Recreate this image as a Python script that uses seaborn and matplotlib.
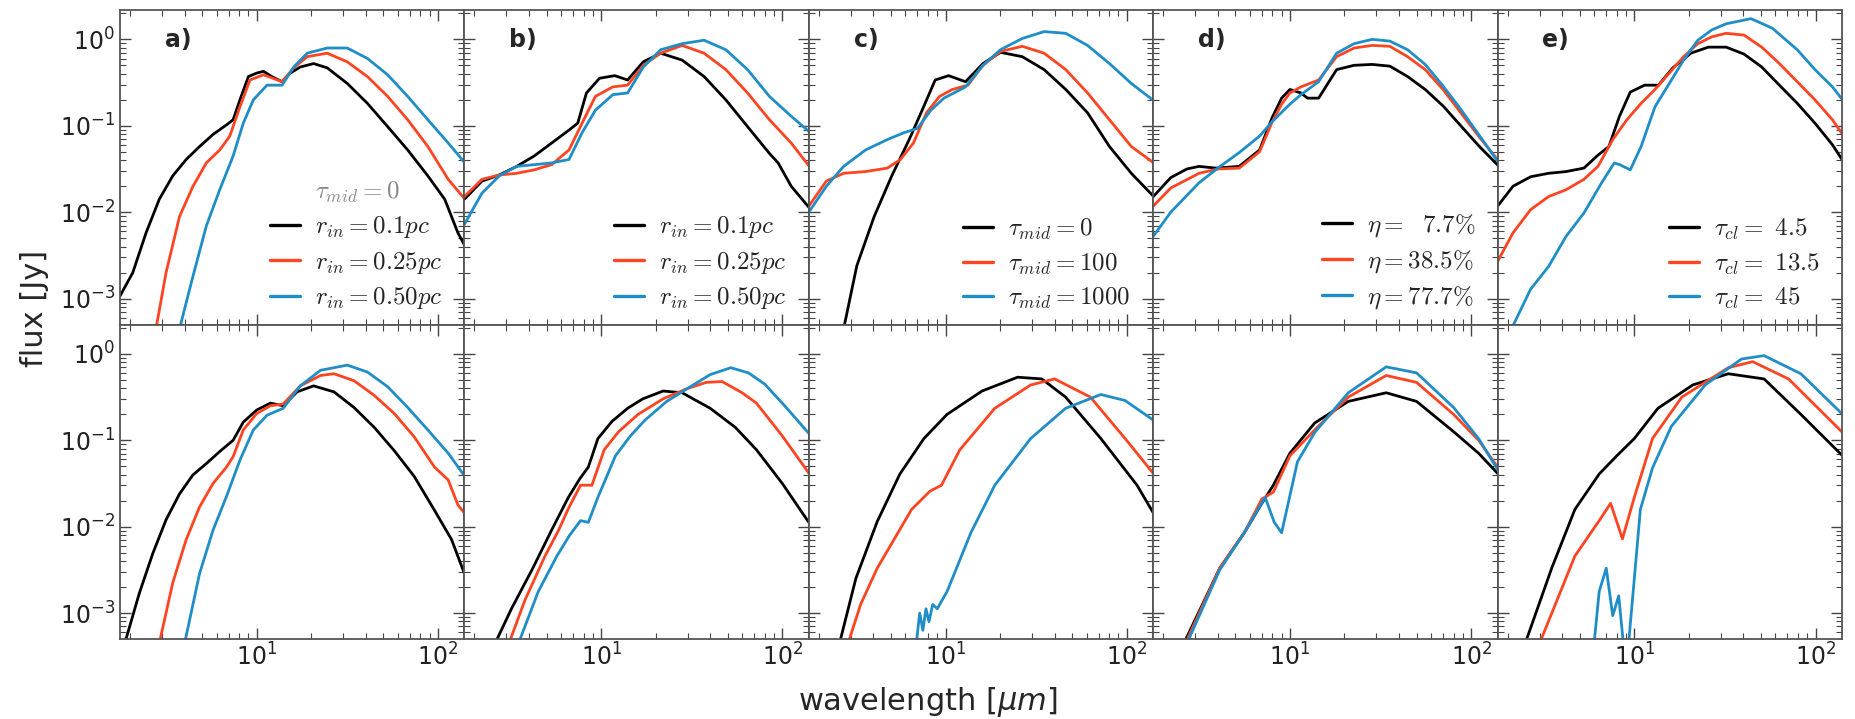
import matplotlib
matplotlib.use("Agg")
import matplotlib.pyplot as plt
import numpy as np
import pandas as pd
import seaborn as sns
from matplotlib.lines import Line2D
from matplotlib.ticker import LogLocator, NullFormatter

# ---------------- data: (wavelength [um], log10 flux [Jy]) ----------------
a_top_k = [(1.76,-2.97),(2.07,-2.70),(2.45,-2.24),(2.9,-1.85),(3.44,-1.58),(4.08,-1.39),(4.84,-1.24),(5.74,-1.10),(6.81,-0.99),(7.41,-0.93),(8.08,-0.70),(9.0,-0.43),(10,-0.39),(10.9,-0.37),(12.1,-0.43),(13.8,-0.49),(15.3,-0.39),(17.4,-0.32),(20.6,-0.28),(24.5,-0.33),(31.6,-0.51),(40.8,-0.74),(52.8,-1.01),(68.1,-1.28),(88,-1.58),(109,-1.85),(129,-2.24),(141,-2.39)]
a_top_r = [(2.78,-3.35),(3.16,-2.70),(3.75,-2.05),(4.45,-1.70),(5.27,-1.43),(6.25,-1.28),(7.1,-1.12),(8.08,-0.78),(9.18,-0.47),(10.9,-0.41),(13.8,-0.49),(16,-0.33),(19,-0.20),(24.5,-0.16),(31.6,-0.26),(40.8,-0.43),(52.8,-0.66),(68.1,-0.93),(88,-1.24),(114,-1.62),(141,-1.85)]
a_top_b = [(3.75,-3.35),(4.45,-2.74),(5.27,-2.16),(6.25,-1.74),(7.41,-1.35),(8.43,-0.97),(9.58,-0.70),(11.4,-0.53),(13.8,-0.53),(16,-0.32),(19,-0.16),(24.5,-0.10),(31.6,-0.10),(40.8,-0.22),(52.8,-0.41),(68.1,-0.66),(88,-0.93),(114,-1.20),(141,-1.43)]
a_bot_k = [(1.87,-3.35),(2.25,-2.77),(2.67,-2.31),(3.16,-1.92),(3.75,-1.62),(4.45,-1.40),(5.27,-1.27),(6.25,-1.13),(7.41,-1.0),(8.43,-0.79),(10,-0.65),(11.9,-0.57),(14,-0.60),(16.7,-0.44),(20.6,-0.37),(26.7,-0.44),(34.4,-0.62),(44.5,-0.85),(57.4,-1.12),(74.1,-1.42),(95.7,-1.81),(119,-2.15),(141,-2.56)]
a_bot_r = [(2.9,-3.35),(3.44,-2.65),(4.08,-2.15),(4.84,-1.77),(5.74,-1.5),(6.81,-1.31),(7.41,-1.19),(8.43,-0.88),(10,-0.69),(11.9,-0.60),(14,-0.58),(17.4,-0.37),(22.5,-0.25),(26.7,-0.23),(34.4,-0.31),(44.5,-0.48),(57.4,-0.69),(74,-0.96),(95.7,-1.31),(114,-1.46),(129,-1.75),(141,-1.85)]
a_bot_b = [(4.0,-3.35),(4.84,-2.54),(5.74,-2.04),(6.81,-1.65),(8.08,-1.23),(9.58,-0.88),(11.4,-0.71),(14,-0.63),(17.4,-0.37),(22.5,-0.19),(31.6,-0.13),(40.8,-0.21),(52.8,-0.38),(68.1,-0.62),(88,-0.88),(114,-1.15),(141,-1.42)]

b_top_k = [(1.76,-1.85),(2.2,-1.64),(2.74,-1.57),(3.42,-1.47),(4.27,-1.35),(5.33,-1.2),(6.65,-1.05),(7.43,-0.97),(8.3,-0.62),(9.8,-0.45),(11.9,-0.42),(14,-0.47),(17.1,-0.26),(21.3,-0.16),(28,-0.24),(37,-0.43),(48.8,-0.70),(64.3,-1.01),(84.9,-1.32),(94.8,-1.43),(112,-1.70),(141,-1.95)]
b_top_r = [(1.76,-1.82),(2.2,-1.62),(2.74,-1.57),(3.42,-1.55),(4.27,-1.51),(5.33,-1.45),(6.65,-1.28),(7.85,-0.97),(9.3,-0.66),(11.6,-0.55),(14,-0.53),(17.1,-0.30),(21.3,-0.16),(28,-0.07),(37,-0.16),(48.8,-0.35),(64.3,-0.62),(84.9,-0.93),(112,-1.20),(141,-1.47)]
b_top_b = [(1.76,-2.14),(2.2,-1.78),(2.74,-1.58),(3.42,-1.47),(4.27,-1.45),(5.33,-1.43),(6.65,-1.39),(7.85,-1.08),(9.3,-0.82),(11.6,-0.64),(14,-0.62),(17.1,-0.32),(21.3,-0.12),(28,-0.05),(37,-0.01),(48.8,-0.12),(64.3,-0.35),(84.9,-0.66),(112,-0.89),(141,-1.07)]
b_bot_k = [(2.6,-3.35),(3.2,-2.95),(4.2,-2.48),(5.3,-2.05),(6.6,-1.66),(7.6,-1.45),(8.5,-1.31),(9.6,-0.98),(11.5,-0.78),(14,-0.63),(17,-0.52),(22,-0.43),(28,-0.45),(40,-0.63),(55,-0.85),(72,-1.11),(100,-1.50),(140,-1.95)]
b_bot_r = [(3.1,-3.35),(3.8,-2.85),(4.9,-2.34),(5.8,-2.05),(6.6,-1.79),(7.7,-1.52),(8.9,-1.52),(10.4,-1.11),(12.5,-0.90),(16,-0.70),(22,-0.52),(30,-0.40),(38,-0.33),(46.5,-0.32),(60,-0.45),(72,-0.57),(100,-0.95),(140,-1.38)]
b_bot_b = [(3.5,-3.35),(4.5,-2.75),(5.7,-2.34),(6.7,-2.1),(7.7,-1.93),(8.5,-1.95),(9.6,-1.66),(12,-1.18),(14.5,-0.95),(17.4,-0.77),(23,-0.55),(30,-0.40),(40,-0.24),(52,-0.16),(65,-0.22),(80,-0.35),(105,-0.62),(140,-0.92)]

c_top_k = [(2.74,-3.35),(3.24,-2.62),(4.04,-2.05),(5.05,-1.58),(6.3,-1.16),(7.43,-0.82),(8.77,-0.47),(10.4,-0.42),(12.9,-0.49),(16.1,-0.28),(20.1,-0.15),(26.5,-0.20),(35,-0.35),(46.1,-0.58),(60.8,-0.85),(80.3,-1.24),(106,-1.55),(141,-1.82)]
c_top_r = [(1.76,-1.93),(2.2,-1.64),(2.74,-1.55),(3.62,-1.53),(4.77,-1.49),(5.64,-1.39),(6.65,-1.2),(7.85,-0.85),(9.27,-0.66),(10.9,-0.58),(13.3,-0.53),(16.1,-0.30),(20.1,-0.14),(26.5,-0.08),(35,-0.16),(46.1,-0.35),(60.8,-0.62),(80.3,-0.93),(106,-1.24),(141,-1.43)]
c_top_b = [(1.76,-2.0),(2.2,-1.70),(2.74,-1.47),(3.62,-1.28),(4.77,-1.16),(5.9,-1.08),(7.0,-1.03),(8.3,-0.82),(9.8,-0.68),(12.9,-0.55),(16.1,-0.30),(20.1,-0.12),(26.5,0.01),(35,0.09),(46.1,0.07),(60.8,-0.07),(80.3,-0.28),(106,-0.51),(141,-0.71)]
c_bot_k = [(2.6,-3.35),(3.2,-2.6),(4.2,-1.94),(5.6,-1.39),(7.6,-0.98),(10.2,-0.70),(15.9,-0.43),(25,-0.27),(34,-0.29),(46,-0.50),(72,-0.98),(114,-1.52),(141,-1.85)]
c_bot_r = [(2.9,-3.35),(3.4,-2.9),(4.2,-2.48),(6.5,-1.80),(8.2,-1.59),(9.5,-1.52),(12,-1.11),(18.7,-0.63),(29.5,-0.36),(40,-0.29),(63,-0.50),(98,-0.98),(141,-1.39)]
c_bot_b = [(6.9,-3.35),(7.2,-3.0),(7.5,-3.2),(7.8,-2.95),(8.1,-3.1),(8.5,-2.9),(9.0,-2.95),(10.2,-2.75),(13.8,-2.07),(18.7,-1.52),(29.5,-0.98),(46,-0.63),(72,-0.47),(98,-0.54),(141,-0.77)]

d_top_k = [(1.76,-1.82),(2.2,-1.60),(2.7,-1.50),(3.15,-1.47),(3.9,-1.49),(5.25,-1.47),(6.8,-1.28),(8,-0.90),(9,-0.68),(10,-0.58),(11.5,-0.62),(12.5,-0.68),(14.4,-0.68),(18.1,-0.35),(22.6,-0.30),(28.4,-0.29),(35.6,-0.31),(44.6,-0.43),(55.8,-0.58),(70,-0.77),(87.7,-1.00),(110,-1.23),(141,-1.46)]
d_top_r = [(1.76,-1.93),(2.2,-1.72),(3.15,-1.55),(4,-1.50),(5.25,-1.49),(6.8,-1.30),(8,-0.95),(9,-0.75),(10,-0.62),(11.5,-0.55),(14.4,-0.47),(18.1,-0.20),(22.6,-0.10),(28.4,-0.07),(35.6,-0.08),(44.6,-0.20),(55.8,-0.35),(70,-0.58),(87.7,-0.85),(110,-1.12),(141,-1.40)]
d_top_b = [(1.76,-2.28),(2.2,-2.0),(3.15,-1.66),(4,-1.49),(5.25,-1.31),(6.8,-1.12),(8,-0.95),(10,-0.75),(11.5,-0.64),(14.4,-0.49),(18.1,-0.16),(22.6,-0.05),(28.4,0.0),(35.6,-0.02),(44.6,-0.12),(55.8,-0.29),(70,-0.54),(87.7,-0.81),(110,-1.10),(141,-1.42)]
d_bot_k = [(2.6,-3.35),(4.1,-2.48),(5.6,-2.07),(7.0,-1.73),(8.1,-1.52),(10,-1.15),(13.7,-0.80),(21,-0.55),(34,-0.45),(50,-0.55),(80,-0.90),(110,-1.15),(141,-1.39)]
d_bot_r = [(2.65,-3.35),(4.1,-2.48),(5.6,-2.07),(7.0,-1.68),(8.1,-1.60),(10,-1.18),(13.7,-0.88),(21,-0.50),(34,-0.25),(50,-0.33),(80,-0.70),(110,-1.0),(141,-1.32)]
d_bot_b = [(2.7,-3.35),(4.1,-2.50),(5.6,-2.07),(7.3,-1.66),(8.2,-1.95),(9.0,-2.07),(11,-1.25),(13.7,-0.91),(21,-0.45),(34,-0.15),(50,-0.22),(80,-0.62),(110,-0.98),(141,-1.35)]

e_top_k = [(1.76,-1.93),(2.14,-1.70),(2.68,-1.59),(3.36,-1.55),(4.2,-1.53),(5.27,-1.49),(6.3,-1.34),(7.24,-1.24),(8.28,-0.89),(9.5,-0.61),(11.4,-0.53),(13.6,-0.53),(16.3,-0.33),(20.5,-0.16),(25.6,-0.09),(32.1,-0.09),(40.3,-0.17),(50.5,-0.32),(63.2,-0.53),(79.3,-0.74),(99.3,-0.97),(124,-1.22),(141,-1.40)]
e_top_r = [(1.76,-2.57),(2.14,-2.24),(2.68,-1.97),(3.36,-1.82),(4.2,-1.74),(5.27,-1.62),(6.3,-1.47),(7.6,-1.16),(9.1,-0.93),(10.9,-0.74),(13.0,-0.58),(15.6,-0.39),(18.7,-0.20),(22.4,-0.05),(26.8,0.03),(32.1,0.07),(40.3,0.05),(50.5,-0.09),(63.2,-0.28),(79.3,-0.49),(99.3,-0.70),(124,-0.93),(141,-1.10)]
e_top_b = [(2.1,-3.35),(2.68,-2.89),(3.36,-2.63),(4.2,-2.28),(5.27,-2.01),(6.6,-1.66),(7.75,-1.43),(8.3,-1.45),(9.5,-1.51),(10.9,-1.24),(13.0,-0.78),(15.6,-0.51),(18.7,-0.24),(22.4,-0.01),(26.8,0.11),(32.1,0.18),(44,0.24),(57.7,0.13),(79.3,-0.12),(99.3,-0.35),(124,-0.55),(141,-0.70)]
e_bot_k = [(2.5,-3.35),(3.5,-2.48),(4.7,-1.80),(6.4,-1.39),(8,-1.18),(10,-0.98),(13.5,-0.63),(21,-0.36),(33,-0.23),(52,-0.29),(83,-0.70),(141,-1.18)]
e_bot_r = [(3.0,-3.35),(4.7,-2.34),(6.4,-1.93),(7.4,-1.73),(8.6,-2.14),(10,-1.66),(12.6,-0.98),(18.3,-0.50),(33,-0.16),(45,-0.09),(71,-0.29),(141,-0.91)]
e_bot_b = [(6.0,-3.35),(6.4,-2.75),(7.0,-2.48),(7.6,-3.03),(8.2,-2.8),(8.7,-3.35),(9.3,-3.35),(10.0,-2.6),(10.8,-1.80),(12.6,-1.32),(16,-0.84),(24.6,-0.36),(39,-0.06),(52,-0.02),(83,-0.23),(141,-0.70)]

panel_tags = ["a)", "b)", "c)", "d)", "e)"]
top_series = [(a_top_k, a_top_r, a_top_b), (b_top_k, b_top_r, b_top_b), (c_top_k, c_top_r, c_top_b),
              (d_top_k, d_top_r, d_top_b), (e_top_k, e_top_r, e_top_b)]
bot_series = [(a_bot_k, a_bot_r, a_bot_b), (b_bot_k, b_bot_r, b_bot_b), (c_bot_k, c_bot_r, c_bot_b),
              (d_bot_k, d_bot_r, d_bot_b), (e_bot_k, e_bot_r, e_bot_b)]
legend_labels = [
    [r"$r_{in}=0.1pc$", r"$r_{in}=0.25pc$", r"$r_{in}=0.50pc$"],
    [r"$r_{in}=0.1pc$", r"$r_{in}=0.25pc$", r"$r_{in}=0.50pc$"],
    [r"$\tau_{mid}=0$", r"$\tau_{mid}=100$", r"$\tau_{mid}=1000$"],
    [r"$\eta=\ \ 7.7\%$", r"$\eta=38.5\%$", r"$\eta=77.7\%$"],
    [r"$\tau_{cl}=\ 4.5$", r"$\tau_{cl}=\ 13.5$", r"$\tau_{cl}=\ 45$"],
]
series_names = ["s1", "s2", "s3"]
colors = ["#000000", "#ff4422", "#1f8ec6"]

# ---------------- style ----------------
sns.set_style("white")
plt.rcParams["font.family"] = ["DejaVu Sans"]
plt.rcParams["mathtext.fontset"] = "cm"
plt.rcParams["axes.edgecolor"] = "#444444"
plt.rcParams["axes.linewidth"] = 1.3

fig, axes = plt.subplots(2, 5, figsize=(18.56, 7.19), dpi=100, sharex=True, sharey=True,
                         gridspec_kw=dict(wspace=0, hspace=0))
fig.subplots_adjust(left=120/1856, right=1842/1856, top=1-10/719, bottom=1-639/719)

def to_frame(triple):
    rows = []
    for name, ser in zip(series_names, triple):
        for wl, lf in ser:
            rows.append((wl, 10.0 ** lf, name))
    return pd.DataFrame(rows, columns=["wl", "flux", "series"])

for row, group in enumerate([top_series, bot_series]):
    for col in range(5):
        ax = axes[row, col]
        df = to_frame(group[col])
        sns.lineplot(data=df, x="wl", y="flux", hue="series", palette=colors, hue_order=series_names,
                     estimator=None, sort=False, legend=False, lw=2.0, ax=ax)
        ax.set_xscale("log")
        ax.set_yscale("log")
        ax.set_xlim(1.76, 140)
        ax.set_ylim(10 ** -3.30, 10 ** 0.34)
        ax.set_xlabel("")
        ax.set_ylabel("")
        ax.yaxis.set_minor_locator(LogLocator(base=10, subs=np.arange(2, 10)))
        ax.xaxis.set_minor_locator(LogLocator(base=10, subs=np.arange(2, 10)))
        ax.yaxis.set_minor_formatter(NullFormatter())
        ax.xaxis.set_minor_formatter(NullFormatter())
        ax.tick_params(which="both", direction="in", top=True, right=True, bottom=True, left=True,
                       colors="#444444", labelcolor="#222222", labelsize=17)
        ax.tick_params(which="major", length=8, width=1.0)
        ax.tick_params(which="minor", length=4, width=0.8)
        for sp in ax.spines.values():
            sp.set_visible(True)
            sp.set_color("#555555")
        if row == 0:
            ax.text(0.13, 0.905, panel_tags[col], transform=ax.transAxes, fontsize=17,
                    fontweight="bold", va="center", ha="left")
            handles = [Line2D([], [], color=c, lw=2.4) for c in colors]
            labels = list(legend_labels[col])
            if col == 0:
                handles = [Line2D([], [], color="none")] + handles
                labels = [r"$\tau_{mid}=0$"] + labels
            leg = ax.legend(handles, labels, loc="lower right", frameon=False, fontsize=18,
                            handlelength=1.2, handletextpad=0.6, labelspacing=0.38,
                            borderaxespad=0.5, bbox_to_anchor=(1.0, -0.03))
            if col == 0:
                leg.get_texts()[0].set_color("#888888")

fig.text(0.5, 1 - 702/719, r"wavelength [$\mu m$]", ha="center", va="center", fontsize=22,
         math_fontfamily="dejavusans")
fig.text(35/1856, 1 - 308/719, "flux [Jy]", ha="center", va="center", rotation=90, fontsize=22)

fig.savefig("out.png", dpi=100)
